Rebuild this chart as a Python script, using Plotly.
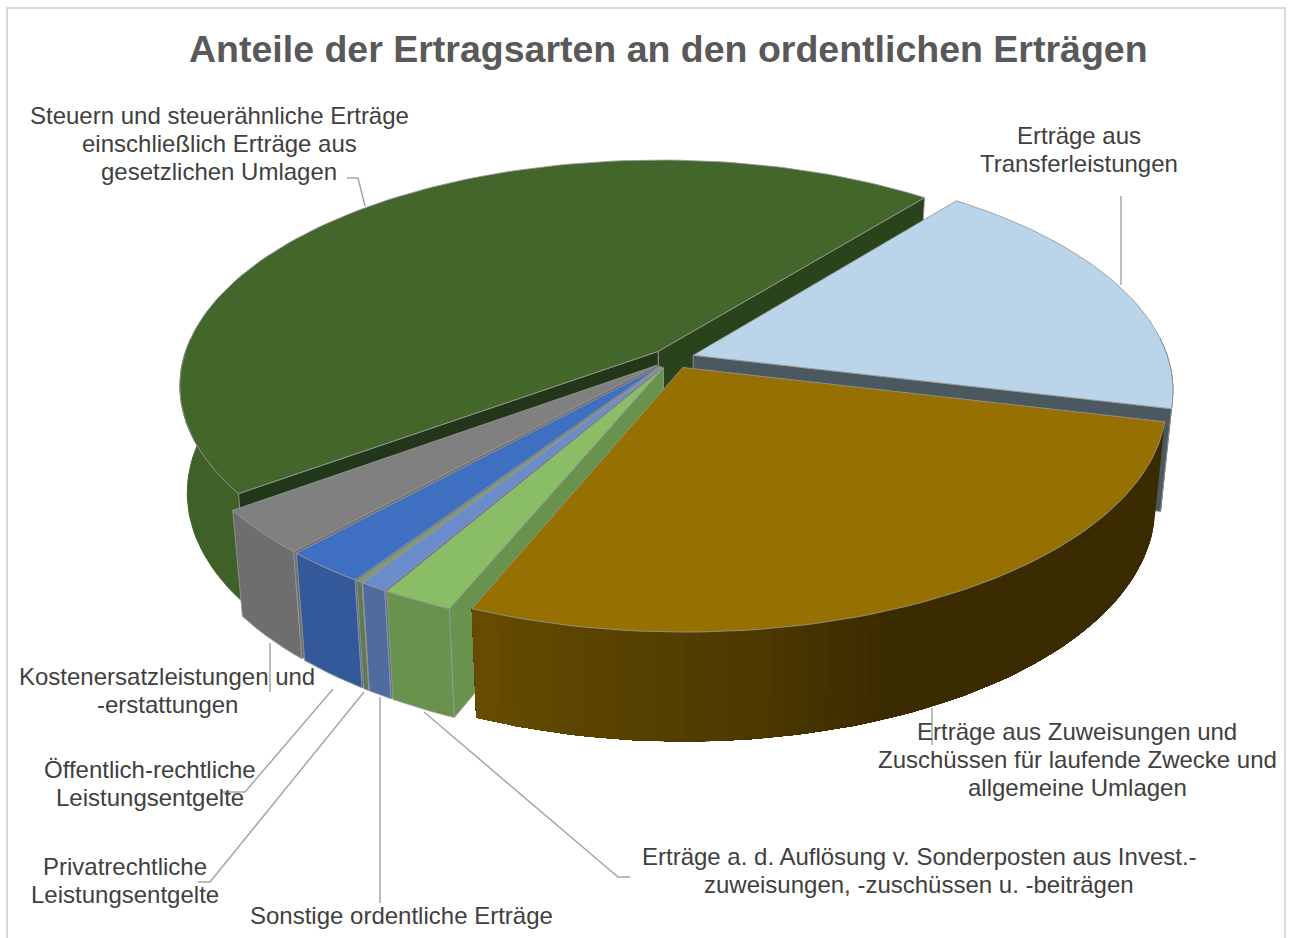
import math
import plotly.graph_objects as go

# ---- data (clockwise, starting at the light-blue slice) ----
categories = ["Erträge aus Transferleistungen",
              "Erträge aus Zuweisungen und Zuschüssen für laufende Zwecke und allgemeine Umlagen",
              "Erträge a. d. Auflösung v. Sonderposten aus Invest.-zuweisungen, -zuschüssen u. -beiträgen",
              "Sonstige ordentliche Erträge",
              "Privatrechtliche Leistungsentgelte",
              "Öffentlich-rechtliche Leistungsentgelte",
              "Kostenersatzleistungen und -erstattungen",
              "Steuern und steuerähnliche Erträge einschließlich Erträge aus gesetzlichen Umlagen"]
values = [18.0, 27.5, 2.1, 0.8, 0.2, 2.4, 3.2, 45.8]
title_text = "Anteile der Ertragsarten an den ordentlichen Erträgen"

top_colors = ["#BAD4EA", "#967000", "#89BE66", "#6A8CCB", "#7F9A70", "#3F6FC0", "#808080", "#43662A"]
wall_colors = ["#4B5860", "#6A4E00", "#69934D", "#4F6B9F", "#5F7A50", "#34599B", "#6E6E6E", "#3F6128"]
face_colors = ["#4B5860", "#3A2A00", "#69934D", "#4F6B9F", "#5F7A50", "#34599B", "#6E6E6E", "#2B431A"]
wall_edged = [False, False, True, True, True, True, True, False]
draw_order = [7, 0, 6, 5, 4, 3, 2, 1]

# ---- text placement ----
label_lines = [
    ("Steuern und steuerähnliche Erträge", 219, 116), ("einschließlich Erträge aus", 219, 144),
    ("gesetzlichen Umlagen", 219, 172),
    ("Erträge aus", 1079, 136), ("Transferleistungen", 1079, 164),
    ("Erträge aus Zuweisungen und", 1077, 732), ("Zuschüssen für laufende Zwecke und", 1077, 760),
    ("allgemeine Umlagen", 1077, 788),
    ("Erträge a. d. Auflösung v. Sonderposten aus Invest.-", 919, 857),
    ("zuweisungen, -zuschüssen u. -beiträgen", 919, 885),
    ("Sonstige ordentliche Erträge", 401, 916),
    ("Privatrechtliche", 125, 867), ("Leistungsentgelte", 125, 895),
    ("Öffentlich-rechtliche", 150, 770), ("Leistungsentgelte", 150, 798),
    ("Kostenersatzleistungen und", 167, 677), ("-erstattungen", 167, 705),
]
leaders = [
    [(347, 178), (358, 178), (365, 206)],
    [(1121, 196), (1121, 285)],
    [(932, 708), (932, 745)],
    [(270, 643), (270, 692)],
    [(333, 689), (245, 792), (222, 792)],
    [(364, 692), (210, 882), (198, 882)],
    [(380, 697), (380, 903)],
    [(424, 712), (618, 877), (630, 877)],
]

# ---- projection of the tilted, exploded disc ----
CX, CY, A, B, P = 673.0, 358.5, 475.0, 222.0, 0.15
EXPLODE, START_DEG = 0.045, 38.7
K, D0, D1 = 0.978, 101.0, 8.0
EDGE = "rgba(150,150,150,0.85)"


def top(t, r, tm):
    X = r * math.sin(t) + EXPLODE * math.sin(tm)
    Y = -r * math.cos(t) - EXPLODE * math.cos(tm)
    s = 1 / (1 - P * Y)
    return CX + A * X * s, CY + B * Y * s, Y


def bottom(t, r, tm, k=K, extra=0.0):
    x, y, Y = top(t, r, tm)
    return CX + (x - CX) * k, y + D0 + D1 * Y + extra


def hex2rgb(h):
    return tuple(int(h[i:i + 2], 16) for i in (1, 3, 5))


def ramp(stops, t_deg):
    for (a, ca), (b, cb) in zip(stops, stops[1:]):
        if a <= t_deg <= b:
            f = (t_deg - a) / (b - a)
            ra, rb = hex2rgb(ca), hex2rgb(cb)
            return "rgb(%d,%d,%d)" % tuple(round(u + (v - u) * f) for u, v in zip(ra, rb))
    return stops[-1][1]


ORANGE_RAMP = [(0, "#3A2A00"), (158, "#3B2B00"), (172, "#4D3900"), (188, "#5A4300"), (205, "#6B4F00"), (400, "#6B4F00")]

fig = go.Figure()


def poly(pts, fill, line=None, width=1):
    xs = [p[0] for p in pts] + [pts[0][0]]
    ys = [p[1] for p in pts] + [pts[0][1]]
    fig.add_trace(go.Scatter(x=xs, y=ys, mode="lines", fill="toself", fillcolor=fill,
                             line=dict(color=line or fill, width=width),
                             hoverinfo="skip", showlegend=False))


total = sum(values)
bounds = [math.radians(START_DEG)]
for v in values:
    bounds.append(bounds[-1] + 2 * math.pi * v / total)

for i in draw_order:
    t0, t1 = bounds[i], bounds[i + 1]
    tm = (t0 + t1) / 2
    n = max(3, int((t1 - t0) / math.radians(1.5)))
    ts = [t0 + (t1 - t0) * j / n for j in range(n + 1)]
    # outer wall: only the part that faces the viewer
    front = [a for a in ts if math.cos(a) < 0.08]
    wk, wx = (0.985, 5.0) if i == 7 else (K, 0.0)
    if i == 1:
        # drawn from the far end so each strip overlaps the previous one (no seams)
        for j in range(len(front) - 1):
            col = ramp(ORANGE_RAMP, math.degrees(front[j]))
            seg = front[j:]
            poly([top(u, 1, tm)[:2] for u in seg] + [bottom(u, 1, tm) for u in reversed(seg)], col, width=0)
    elif len(front) > 1:
        pts = [top(a, 1, tm)[:2] for a in front] + [bottom(a, 1, tm, wk, wx) for a in reversed(front)]
        poly(pts, wall_colors[i], EDGE if wall_edged[i] else None)
    # radial cut faces that look towards the viewer
    if math.sin(t0) < 0:
        col = "#22361A" if i == 7 else face_colors[i]
        poly([top(t0, 0, tm)[:2], top(t0, 1, tm)[:2], bottom(t0, 1, tm), bottom(t0, 0, tm)], col, EDGE)
    if math.sin(t1) > 0:
        poly([top(t1, 0, tm)[:2], top(t1, 1, tm)[:2], bottom(t1, 1, tm), bottom(t1, 0, tm)], face_colors[i], EDGE)
    # top surface
    pts = [top(t0, 0, tm)[:2]] + [top(a, 1, tm)[:2] for a in ts]
    poly(pts, top_colors[i], EDGE)

shapes = [dict(type="rect", xref="x", yref="y", x0=7, y0=8, x1=1285, y1=960,
               line=dict(color="#D9D9D9", width=2), fillcolor="rgba(0,0,0,0)", layer="below")]
for path in leaders:
    d = "M " + " L ".join(f"{x} {y}" for x, y in path)
    shapes.append(dict(type="path", xref="x", yref="y", path=d,
                       line=dict(color="#A6A6A6", width=1.5)))

annotations = [dict(text=title_text, x=668, y=49, xref="x", yref="y", showarrow=False,
                    font=dict(family="Liberation Sans", size=37.5, color="#595959", weight="bold"))]
for txt, x, y in label_lines:
    annotations.append(dict(text=txt, x=x, y=y - 1, xref="x", yref="y", showarrow=False,
                            font=dict(family="Liberation Sans", size=24, color="#404040")))

fig.update_layout(
    width=1293, height=938, margin=dict(l=0, r=0, t=0, b=0),
    paper_bgcolor="white", plot_bgcolor="white", showlegend=False,
    xaxis=dict(range=[0, 1293], visible=False, fixedrange=True),
    yaxis=dict(range=[938, 0], visible=False, fixedrange=True),
    shapes=shapes, annotations=annotations,
)
fig.write_html("out.html", config={"displayModeBar": False},
               post_script="document.body.style.margin='0';document.documentElement.style.overflow='hidden';")
